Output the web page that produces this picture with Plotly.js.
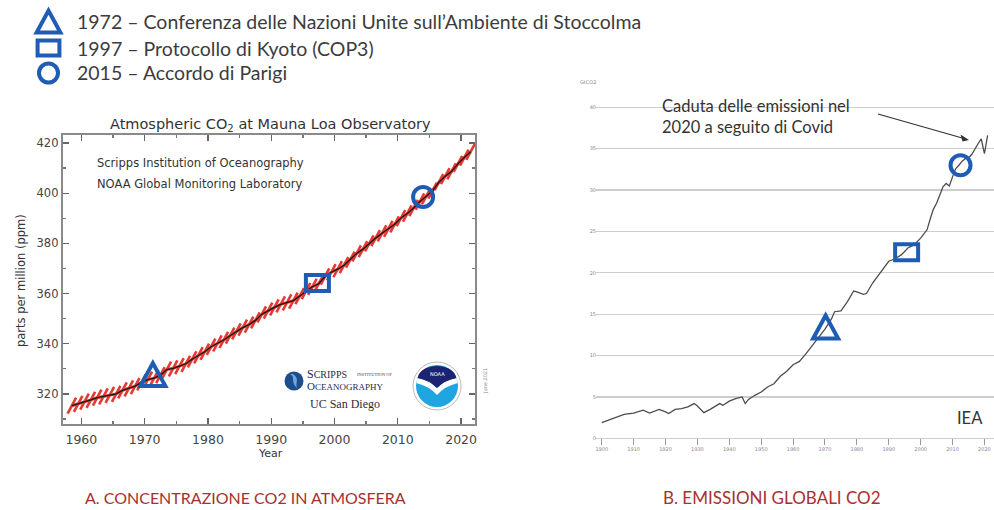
<!DOCTYPE html>
<html>
<head>
<meta charset="utf-8">
<script src="https://cdn.plot.ly/plotly-3.0.1.min.js"></script>
<style>html,body{margin:0;padding:0;background:#fff}#chart{width:994px;height:510px}</style>
</head>
<body>
<div id="chart"></div>
<script>
// ---------- DATA ----------
// Panel A: Mauna Loa annual mean CO2 (ppm)
const co2Years = [1958,1959,1960,1961,1962,1963,1964,1965,1966,1967,1968,1969,1970,1971,1972,1973,1974,1975,1976,1977,1978,1979,1980,1981,1982,1983,1984,1985,1986,1987,1988,1989,1990,1991,1992,1993,1994,1995,1996,1997,1998,1999,2000,2001,2002,2003,2004,2005,2006,2007,2008,2009,2010,2011,2012,2013,2014,2015,2016,2017,2018,2019,2020,2021];
const co2Ppm = [315.3,316.0,316.9,317.6,318.5,319.0,319.6,320.0,321.4,322.2,323.1,324.6,325.7,326.3,327.5,329.7,330.2,331.1,332.0,333.8,335.4,336.8,338.8,340.1,341.5,343.2,344.9,346.4,347.6,349.3,351.7,353.2,354.5,355.7,356.5,357.2,359.0,361.0,362.7,363.9,366.8,368.5,369.7,371.3,373.5,376.0,377.7,380.0,382.1,384.0,385.8,387.6,390.1,391.9,394.1,396.7,398.8,401.0,404.4,406.8,408.7,411.7,414.2,416.5];

// Panel B: global CO2 emissions (Gt CO2)
const emYears = [1900,1902,1905,1907,1910,1913,1915,1918,1920,1921,1923,1925,1927,1929,1930,1932,1934,1936,1937,1938,1940,1942,1944,1945,1946,1948,1950,1952,1954,1956,1958,1960,1962,1964,1966,1968,1970,1972,1973,1975,1977,1979,1980,1982,1983,1985,1987,1989,1990,1992,1994,1996,1998,2000,2002,2003,2004,2005,2006,2007,2008,2009,2010,2011,2012,2013,2014,2015,2016,2017,2018,2019,2020,2021];
const emGt = [1.9,2.2,2.6,2.9,3.05,3.4,3.05,3.5,3.2,3.0,3.5,3.6,3.8,4.2,3.9,3.1,3.5,3.9,4.2,4.0,4.5,4.8,5.0,4.2,4.7,5.2,5.6,6.2,6.6,7.5,8.1,8.9,9.3,10.2,11.2,12.3,13.2,14.4,15.3,15.4,16.5,17.8,17.7,17.4,17.5,18.8,19.9,21.0,21.4,21.7,22.2,23.0,23.4,24.2,25.2,26.5,27.7,28.4,29.4,30.4,30.8,30.5,31.6,32.6,33.0,33.5,33.8,33.9,34.3,35.0,35.6,36.2,34.4,36.6];

// Events (legend) and their marker positions on each panel
const eventLabels = ["1972 – Conferenza delle Nazioni Unite sull’Ambiente di Stoccolma", "1997 – Protocollo di Kyoto (COP3)", "2015 – Accordo di Parigi"];
const eventSymbols = ["triangle", "rect", "circle"];
const eventLeftX = [1971.3, 1997.3, 2014.0];
const eventLeftY = [327.5, 364.2, 398.5];
const eventRightX = [1970.2, 1995.6, 2012.5];
const eventRightY = [13.4, 22.5, 33.0];

// Tick labels
const leftXTicks = [1960,1970,1980,1990,2000,2010,2020];
const leftYTicks = [320,340,360,380,400,420];
const rightXTicks = [1900,1910,1920,1930,1940,1950,1960,1970,1980,1990,2000,2010,2020];
const rightYTicks = [0,5,10,15,20,25,30,35,40];

const captionA = "A. CONCENTRAZIONE CO2 IN ATMOSFERA";
const captionB = "B. EMISSIONI GLOBALI CO2";
const covidNote = "Caduta delle emissioni nel<br>2020 a seguito di Covid";

// ---------- LAYOUT HELPERS ----------
const W = 994, H = 510;
const px = x => x / W;
const py = y => 1 - y / H;
const BLUE = '#1f5cb3';
const LEG_FONT = 'Lato, "Open Sans", sans-serif';

function symShape(kind, xref, yref, xa, ya, scale) {
  const s = scale || 1;
  const base = {xref, yref, xsizemode:'pixel', ysizemode:'pixel', xanchor:xa, yanchor:ya,
                line:{color:BLUE, width:4}, fillcolor:'rgba(0,0,0,0)', layer:'above'};
  if (kind === 'triangle') return Object.assign(base, {type:'path',
      path:`M ${-12.5*s} ${-11*s} L ${12.5*s} ${-11*s} L 0 ${12*s} Z`});
  if (kind === 'rect') return Object.assign(base, {type:'rect', x0:-11.5*s, x1:11.5*s, y0:-8*s, y1:8*s});
  return Object.assign(base, {type:'circle', x0:-10*s, x1:10*s, y0:-10*s, y1:10*s});
}

const shapes = [];
const annotations = [];
function ann(text, x, y, o) {
  annotations.push(Object.assign({text, x:px(x), y:py(y), xref:'paper', yref:'paper',
    showarrow:false, xanchor:'left', yanchor:'middle'}, o || {}));
}

// Event markers on both panels
eventSymbols.forEach((k, i) => {
  shapes.push(symShape(k, 'x', 'y', eventLeftX[i], eventLeftY[i]));
  shapes.push(symShape(k, 'x2', 'y2', eventRightX[i], eventRightY[i]));
});

// Legend at top-left
const legendY = [22, 48, 73];
eventSymbols.forEach((k, i) => {
  shapes.push(symShape(k, 'paper', 'paper', px(48.5), py(legendY[i]), 0.95));
  ann(eventLabels[i], 75, legendY[i], {font:{family:LEG_FONT, size:19.5, color:'#3c3c3c'}});
});

// Panel A texts
ann('Atmospheric CO<sub>2</sub> at Mauna Loa Observatory', 270, 125,
    {xanchor:'center', font:{family:'DejaVu Sans', size:14.5, color:'#333'}});
ann('Scripps Institution of Oceanography', 95, 163, {font:{family:'DejaVu Sans', size:11.5, color:'#333'}});
ann('NOAA Global Monitoring Laboratory', 95, 184, {font:{family:'DejaVu Sans', size:11.5, color:'#333'}});
ann('parts per million (ppm)', 21, 281, {xanchor:'center', textangle:-90, font:{family:'DejaVu Sans', size:11.5, color:'#333'}});
ann('Year', 270, 453, {xanchor:'center', font:{family:'DejaVu Sans', size:11, color:'#333'}});
ann('June 2021', 485, 381, {xanchor:'center', textangle:-90, font:{family:'DejaVu Sans', size:5, color:'#888'}});

// Scripps logo
shapes.push({type:'circle', xref:'paper', yref:'paper', xsizemode:'pixel', ysizemode:'pixel',
  xanchor:px(294), yanchor:py(381), x0:-9.5, x1:9.5, y0:-9.5, y1:9.5, fillcolor:'#1d4d8f', line:{width:0}});
shapes.push({type:'path', xref:'paper', yref:'paper', xsizemode:'pixel', ysizemode:'pixel',
  xanchor:px(294), yanchor:py(381), path:'M -4 7 C 2 4, -4 -1, 3 -7 C 1 -2, 6 2, -1 7 Z', fillcolor:'#6fa8d8', line:{width:0}});
ann('S<span style="font-size:10px">CRIPPS</span>', 305, 374, {font:{family:'Liberation Serif', size:12, color:'#2a2a4a'}});
ann('INSTITUTION OF', 355, 374, {font:{family:'Liberation Serif', size:4.5, color:'#444'}});
ann('O<span style="font-size:9px">CEANOGRAPHY</span>', 305, 386, {font:{family:'Liberation Serif', size:11, color:'#2a2a4a'}});
ann('UC San Diego', 308, 404, {font:{family:'Liberation Serif', size:12, color:'#2b2b3a'}});

// NOAA logo
const nx = px(437), ny = py(386);
function noaa(extra) {
  return Object.assign({xref:'paper', yref:'paper', xsizemode:'pixel', ysizemode:'pixel', xanchor:nx, yanchor:ny}, extra);
}
shapes.push(noaa({type:'circle', x0:-24, x1:24, y0:-24, y1:24, fillcolor:'#ffffff', line:{color:'#b9b9b9', width:1}}));
shapes.push(noaa({type:'circle', x0:-21, x1:21, y0:-21, y1:21, fillcolor:'#1fa6e0', line:{width:0}}));
shapes.push(noaa({type:'path', path:'M -20.8 3 Q -8 0 0 -9 Q 8 0 20.8 3 L 19.4 8 Q 8 6 0 -2 Q -8 6 -19.4 8 Z', fillcolor:'#ffffff', line:{width:0}}));
shapes.push(noaa({type:'path', path:'M -19.4 8 C -17 24, 17 24, 19.4 8 Q 8 6 0 -2 Q -8 6 -19.4 8 Z', fillcolor:'#1c2372', line:{width:0}}));
ann('NOAA', 437, 374, {xanchor:'center', font:{family:'DejaVu Sans', size:5, color:'#ffffff'}});

// Panel B texts
ann(covidNote, 660, 117, {align:'left', font:{family:LEG_FONT, size:16.5, color:'#333'}});
// arrow pointing at the 2020 drop
shapes.push({type:'line', xref:'paper', yref:'paper', x0:px(878), y0:py(114), x1:px(964), y1:py(138.5),
  line:{color:'#333', width:1.2}});
shapes.push({type:'path', xref:'paper', yref:'paper', xsizemode:'pixel', ysizemode:'pixel',
  xanchor:px(969), yanchor:py(140), path:'M 0 0 L -8.5 5.5 L -6.5 -1.5 Z', fillcolor:'#333', line:{width:0}});
ann('IEA', 970, 418, {xanchor:'center', font:{family:LEG_FONT, size:16.5, color:'#333'}});
ann('GtCO2', 588, 82, {xanchor:'center', font:{family:'DejaVu Sans', size:5, color:'#888'}});

// Captions
ann(captionA, 245, 497, {xanchor:'center', font:{family:LEG_FONT, size:16, color:'#a8302e'}});
ann(captionB, 772, 497, {xanchor:'center', font:{family:LEG_FONT, size:17, color:'#a8302e'}});

// ---------- TRACES ----------
const co2X = co2Years.map(y => y + 0.5);
const traces = [
  {x:co2X, y:co2Ppm, xaxis:'x', yaxis:'y', mode:'lines+markers', hoverinfo:'skip',
   line:{color:'#e6403a', width:3},
   marker:{symbol:'line-ns', angle:28, size:13, line:{color:'#e23a33', width:2.6}}},
  {x:co2X, y:co2Ppm, xaxis:'x', yaxis:'y', mode:'lines', hoverinfo:'skip',
   line:{color:'#151515', width:1.3}},
  {x:emYears, y:emGt, xaxis:'x2', yaxis:'y2', mode:'lines', hoverinfo:'skip',
   line:{color:'#4d4d4d', width:1.3}}
];

const layout = {
  width:W, height:H, margin:{l:0, r:0, t:0, b:0},
  paper_bgcolor:'#fff', plot_bgcolor:'#fff', showlegend:false,
  xaxis:{domain:[px(63), px(475)], range:[1957.1, 2022.2], anchor:'y',
    tickvals:leftXTicks, ticktext:leftXTicks.map(String), ticks:'inside', ticklen:6, tickwidth:1.3, tickcolor:'#666',
    minor:{dtick:5, tick0:1955, ticks:'inside', ticklen:3, tickcolor:'#777'},
    showline:true, linecolor:'#8a8a8a', linewidth:2.2, mirror:'allticks', showgrid:false, zeroline:false,
    ticklabelstandoff:3, tickfont:{family:'DejaVu Sans', size:12.5, color:'#444'}},
  yaxis:{domain:[py(424), py(135)], range:[308, 423.2], anchor:'x',
    tickvals:leftYTicks, ticktext:leftYTicks.map(String), ticks:'inside', ticklen:6, tickwidth:1.3, tickcolor:'#666',
    minor:{dtick:10, tick0:310, ticks:'inside', ticklen:3, tickcolor:'#777'},
    showline:true, linecolor:'#8a8a8a', linewidth:2.2, mirror:'allticks', showgrid:false, zeroline:false,
    tickfont:{family:'DejaVu Sans', size:11.5, color:'#444'}},
  xaxis2:{domain:[px(596), 1], range:[1898.2, 2023], anchor:'free', position:py(438.3),
    tickvals:rightXTicks, ticktext:rightXTicks.map(String), ticks:'outside', ticklen:6, tickwidth:1, tickcolor:'#999',
    showline:false, showgrid:false, zeroline:false, tickfont:{family:'DejaVu Sans', size:5, color:'#888'}},
  yaxis2:{domain:[py(446.6), py(90.8)], range:[-1, 42], anchor:'free', position:px(596),
    tickvals:rightYTicks, ticktext:rightYTicks.map(String), ticks:'', showgrid:true, gridcolor:'#cdcdcd', gridwidth:1.3,
    showline:false, zeroline:false, tickfont:{family:'DejaVu Sans', size:5, color:'#888'}},
  shapes, annotations
};

Plotly.newPlot('chart', traces, layout, {staticPlot:true, displayModeBar:false});
</script>
</body>
</html>
